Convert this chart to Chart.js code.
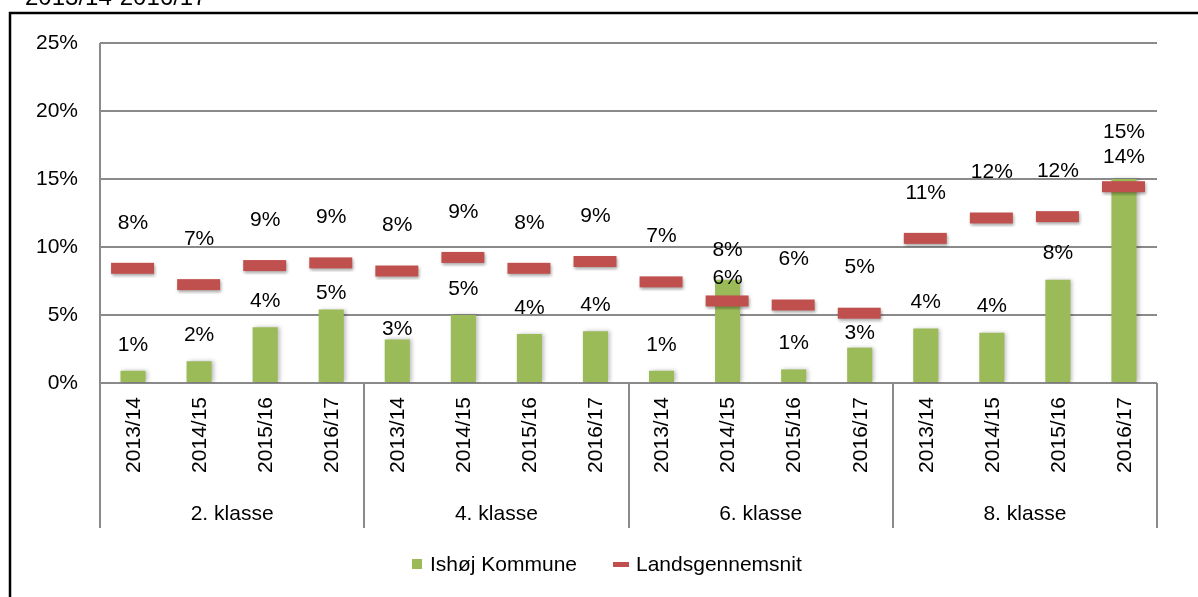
<!DOCTYPE html>
<html>
<head>
<meta charset="utf-8">
<script src="https://cdn.jsdelivr.net/npm/chart.js@4.4.0/dist/chart.umd.min.js"></script>
<style>
  html, body { margin: 0; padding: 0; background: #fff; }
  #wrap { position: relative; width: 1198px; height: 597px; }
</style>
</head>
<body>
<div id="wrap"><canvas id="chart" width="1198" height="597"></canvas></div>
<script>
// Data
const klasser = ['2. klasse', '4. klasse', '6. klasse', '8. klasse'];
const skoleaar = ['2013/14', '2014/15', '2015/16', '2016/17'];
const ishoj = [0.9, 1.6, 4.1, 5.4, 3.2, 5.0, 3.6, 3.8, 0.9, 7.6, 1.0, 2.6, 4.0, 3.7, 7.6, 15.0];
const lands = [8.4, 7.2, 8.6, 8.8, 8.2, 9.2, 8.4, 8.9, 7.4, 6.0, 5.7, 5.1, 10.6, 12.1, 12.2, 14.4];
const yTicks = [0, 5, 10, 15, 20, 25];
const serieNavne = ['Ishøj Kommune', 'Landsgennemsnit'];

const labels = klasser.flatMap(() => skoleaar);
const FONT = 'Liberation Sans, Arial, sans-serif';
const GRID = '#8a8a8a';

// rød markør (streg med lille skygge)
function lavMarkoer() {
  const c = document.createElement('canvas');
  c.width = 50; c.height = 18;
  const g = c.getContext('2d');
  g.shadowColor = 'rgba(0,0,0,0.35)';
  g.shadowBlur = 3; g.shadowOffsetX = 1; g.shadowOffsetY = 2;
  g.fillStyle = '#C0504D';
  g.fillRect(3, 3, 43, 11);
  return c;
}

// etiket-forskydninger (px over søjletop / markør)
const barOff = { 3: 16, 4: 10, 9: 29, 11: 14, 15: 47 };
const redOff = { 9: 23, 15: 30 };

const tegnPlugin = {
  id: 'tegn',
  beforeDatasetDraw(chart, args) {
    if (args.index === 0) {
      const ctx = chart.ctx;
      ctx.save();
      ctx.shadowColor = 'rgba(0,0,0,0.25)';
      ctx.shadowBlur = 4; ctx.shadowOffsetX = 2;
    }
  },
  afterDatasetDraw(chart, args) {
    if (args.index === 0) chart.ctx.restore();
  },
  afterDraw(chart) {
    const ctx = chart.ctx;
    const area = chart.chartArea;
    const x = chart.scales.x, y = chart.scales.y;
    const bund = 528;
    ctx.save();

    // ydre ramme
    ctx.strokeStyle = '#000'; ctx.lineWidth = 2.5;
    ctx.beginPath();
    ctx.moveTo(10, 597); ctx.lineTo(10, 13); ctx.lineTo(1198, 13);
    ctx.stroke();

    // afskåret tekst øverst
    ctx.fillStyle = '#000';
    ctx.font = '24px ' + FONT;
    ctx.textAlign = 'left'; ctx.textBaseline = 'alphabetic';
    ctx.fillText('2013/14-2016/17', 25, 5);

    // akselinje og gruppeskillelinjer
    ctx.strokeStyle = GRID; ctx.lineWidth = 2;
    ctx.beginPath();
    ctx.moveTo(area.left, area.top); ctx.lineTo(area.left, bund);
    const bredde = (area.right - area.left) / klasser.length;
    for (let i = 1; i <= klasser.length; i++) {
      const gx = Math.round(area.left + bredde * i);
      ctx.moveTo(gx, area.bottom); ctx.lineTo(gx, bund);
    }
    ctx.stroke();

    // årstal (lodret) og klasse-navne
    ctx.fillStyle = '#000';
    ctx.font = '21px ' + FONT;
    labels.forEach((l, i) => {
      const px = x.getPixelForValue(i);
      ctx.save();
      ctx.translate(px, 397);
      ctx.rotate(-Math.PI / 2);
      ctx.textAlign = 'right'; ctx.textBaseline = 'middle';
      ctx.fillText(l, 0, 1);
      ctx.restore();
    });
    ctx.textAlign = 'center'; ctx.textBaseline = 'middle';
    klasser.forEach((k, i) => {
      ctx.fillText(k, area.left + bredde * (i + 0.5), 514);
    });

    // dataetiketter
    const m0 = chart.getDatasetMeta(0), m1 = chart.getDatasetMeta(1);
    ishoj.forEach((v, i) => {
      const el = m0.data[i];
      ctx.fillText(Math.round(v) + '%', el.x, el.y - (barOff[i] ?? 26));
    });
    lands.forEach((v, i) => {
      const el = m1.data[i];
      ctx.fillText(Math.round(v) + '%', el.x, el.y - (redOff[i] ?? 46));
    });

    // forklaring
    ctx.textAlign = 'left';
    ctx.fillStyle = '#9BBB59';
    ctx.fillRect(412, 559, 10, 10);
    ctx.fillStyle = '#C0504D';
    ctx.fillRect(613, 562, 16, 5);
    ctx.fillStyle = '#000';
    ctx.fillText(serieNavne[0], 430, 565);
    ctx.fillText(serieNavne[1], 636, 565);
    ctx.restore();
  }
};

new Chart(document.getElementById('chart'), {
  data: {
    labels: labels,
    datasets: [
      {
        type: 'bar',
        label: serieNavne[0],
        data: ishoj,
        backgroundColor: '#9BBB59',
        categoryPercentage: 1,
        barPercentage: 0.38,
        order: 2
      },
      {
        type: 'line',
        label: serieNavne[1],
        data: lands,
        showLine: false,
        pointStyle: lavMarkoer(),
        order: 1
      }
    ]
  },
  options: {
    responsive: false,
    animation: false,
    layout: { padding: { top: 43, right: 41, left: 0, bottom: 0 } },
    plugins: { legend: { display: false }, tooltip: { enabled: false } },
    scales: {
      x: {
        offset: true,
        ticks: { display: false },
        grid: { display: false },
        border: { display: false },
        afterFit: s => { s.height = 214; }
      },
      y: {
        min: 0, max: 25,
        afterBuildTicks: s => { s.ticks = yTicks.map(v => ({ value: v })); },
        ticks: {
          callback: v => v + '%',
          color: '#000',
          padding: 22,
          font: { family: FONT, size: 21 }
        },
        grid: { color: GRID, lineWidth: 2, drawTicks: false },
        border: { display: false },
        afterFit: s => { s.width = 100; }
      }
    }
  },
  plugins: [tegnPlugin]
});
</script>
</body>
</html>
